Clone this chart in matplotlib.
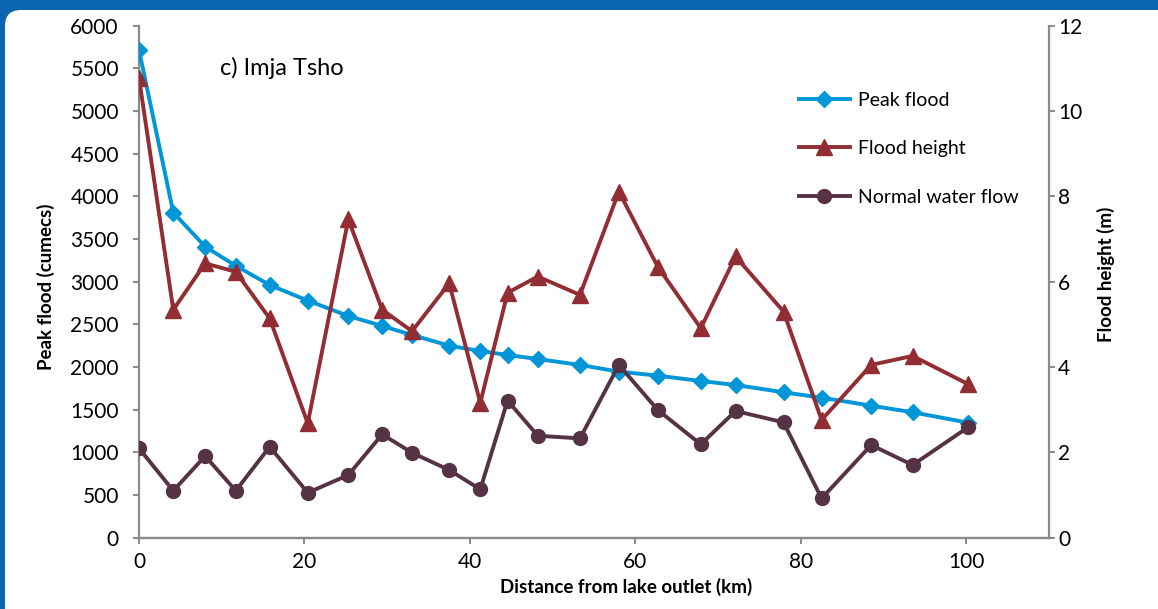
import matplotlib
matplotlib.use("Agg")
import matplotlib.pyplot as plt
from matplotlib.patches import FancyBboxPatch

# distance from lake outlet (km)
distance = [0, 4.15, 8.0, 11.7, 15.8, 20.4, 25.3, 29.4, 33.0, 37.5, 41.25, 44.55,
            48.2, 53.3, 58.0, 62.7, 67.9, 72.1, 77.9, 82.5, 88.5, 93.5, 100.2]
# peak flood (cumecs)
peak_flood = [5715, 3809, 3410, 3186, 2961, 2778, 2598, 2481, 2375, 2250, 2188, 2141,
              2094, 2024, 1946, 1899, 1836, 1790, 1704, 1641, 1547, 1470, 1348]
# flood height (m)
flood_height = [10.78, 5.34, 6.43, 6.23, 5.14, 2.68, 7.46, 5.34, 4.84, 5.96, 3.16, 5.74,
                6.12, 5.69, 8.11, 6.35, 4.91, 6.59, 5.30, 2.76, 4.05, 4.26, 3.60]
# normal water flow (cumecs)
normal_flow = [1048, 551, 957, 551, 1066, 527, 735, 1211, 996, 793, 567, 1606,
               1195, 1164, 2024, 1497, 1094, 1485, 1352, 461, 1086, 852, 1294]

x_ticks = [0, 20, 40, 60, 80, 100]
left_ticks = list(range(0, 6001, 500))
right_ticks = list(range(0, 13, 2))

BLUE = "#0096d8"
RED = "#922d33"
PLUM = "#553244"
GREY = "#8a8a8a"
FRAME = "#0b66b2"

plt.rcParams["font.family"] = ["Lato", "DejaVu Sans"]

fig = plt.figure(figsize=(11.58, 6.09), dpi=100, facecolor=FRAME)
# white rounded panel inside the blue frame
panel = FancyBboxPatch((5, -20), 1180, 619, boxstyle="round,pad=0,rounding_size=16",
                       transform=None, facecolor="white", edgecolor="none", zorder=-5)
fig.patches.append(panel)

ax = fig.add_axes([0.12, 0.117, 0.786, 0.841])
ax.set_facecolor("none")
ax2 = ax.twinx()

l1, = ax.plot(distance, peak_flood, color=BLUE, lw=2.8, marker="D", ms=8.5,
              label="Peak flood", zorder=3)
l3, = ax.plot(distance, normal_flow, color=PLUM, lw=2.8, marker="o", ms=10,
              label="Normal water flow", zorder=4)
l2, = ax2.plot(distance, flood_height, color=RED, lw=2.8, marker="^", ms=11.5,
               label="Flood height", zorder=3)

ax.set_xlim(0, 110)
ax.set_ylim(0, 6000)
ax2.set_ylim(0, 12)
ax.set_xticks(x_ticks)
ax.set_yticks(left_ticks)
ax2.set_yticks(right_ticks)

for a in (ax, ax2):
    a.spines["top"].set_visible(False)
    for side in ("left", "right", "bottom"):
        a.spines[side].set_color(GREY)
        a.spines[side].set_linewidth(1.6)
    a.tick_params(colors=GREY, labelcolor="black", labelsize=15, width=1.4, length=4.5)
ax.spines["right"].set_visible(False)
ax2.spines["left"].set_visible(False)
ax.tick_params(axis="x", pad=6)
ax.tick_params(axis="y", pad=10)
ax2.tick_params(axis="y", pad=2)

ax.set_xlabel("Distance from lake outlet (km)", fontsize=13.5, fontweight="bold")
ax.set_ylabel("Peak flood (cumecs)", fontsize=13.5, fontweight="bold")
ax2.set_ylabel("Flood height (m)", fontsize=13.5, fontweight="bold")
ax.xaxis.set_label_coords(0.535, -0.079)
ax.yaxis.set_label_coords(-0.092, 0.49)
ax2.yaxis.set_label_coords(1.053, 0.515)

ax.text(0.089, 0.917, "c) Imja Tsho", transform=ax.transAxes, fontsize=17, va="center")

ax2.legend(handles=[l1, l2, l3], loc="upper left", bbox_to_anchor=(0.706, 0.905),
           frameon=False, fontsize=14, handlelength=2.6, labelspacing=1.62,
           handletextpad=0.45)

fig.savefig("out.png", dpi=100, facecolor=FRAME)
